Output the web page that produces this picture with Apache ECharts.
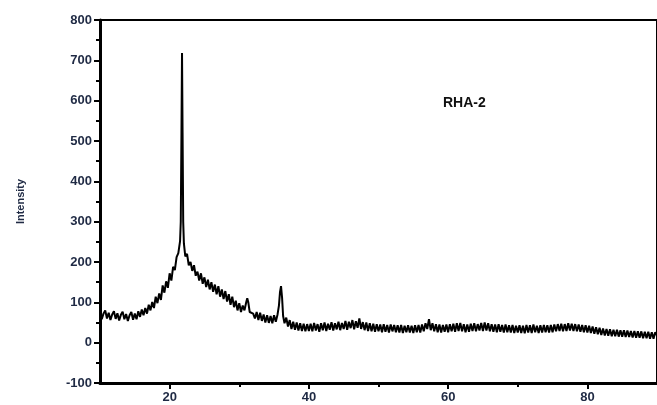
<!DOCTYPE html>
<html lang="en" style="height: 100%">
<head>
<meta charset="utf-8">
<title>RHA-2 XRD</title>
</head>
<body style="height: 100%; margin: 0; background: #fff">
<div id="container" style="height: 100%"></div>
<script type="text/javascript" src="https://cdn.jsdelivr.net/npm/echarts/dist/echarts.min.js"></script>
<script type="text/javascript">
var dom = document.getElementById('container');
var myChart = echarts.init(dom);

// 2-theta positions (deg) and intensities
var twoTheta = [
  10, 10.25, 10.5, 10.75, 11, 11.25, 11.5, 11.75, 12, 12.25, 12.5, 12.75, 13, 13.25, 13.5, 13.75, 14, 14.25, 14.5, 14.75,
  15, 15.25, 15.5, 15.75, 16, 16.25, 16.5, 16.75, 17, 17.25, 17.5, 17.75, 18, 18.25, 18.5, 18.75, 19, 19.25, 19.5, 19.75,
  20, 20.25, 20.5, 20.75, 21, 21.25, 21.5, 21.6, 21.7, 21.78, 21.86, 21.95, 22.05, 22.25, 22.5, 22.75, 23, 23.25, 23.5, 23.75, 24, 24.25, 24.5, 24.75,
  25, 25.25, 25.5, 25.75, 26, 26.25, 26.5, 26.75, 27, 27.25, 27.5, 27.75, 28, 28.25, 28.5, 28.75, 29, 29.25, 29.5, 29.75,
  30, 30.25, 30.5, 30.75, 31, 31.15, 31.3, 31.5, 31.75, 32, 32.25, 32.5, 32.75, 33, 33.25, 33.5, 33.75, 34, 34.25, 34.5, 34.75,
  35, 35.25, 35.5, 35.7, 35.85, 36, 36.15, 36.3, 36.5, 36.75, 37, 37.25, 37.5, 37.75, 38, 38.25, 38.5, 38.75, 39, 39.25, 39.5, 39.75,
  40, 40.25, 40.5, 40.75, 41, 41.25, 41.5, 41.75, 42, 42.25, 42.5, 42.75, 43, 43.25, 43.5, 43.75, 44, 44.25, 44.5, 44.75,
  45, 45.25, 45.5, 45.75, 46, 46.25, 46.5, 46.75, 47, 47.25, 47.5, 47.75, 48, 48.25, 48.5, 48.75, 49, 49.25, 49.5, 49.75,
  50, 50.25, 50.5, 50.75, 51, 51.25, 51.5, 51.75, 52, 52.25, 52.5, 52.75, 53, 53.25, 53.5, 53.75, 54, 54.25, 54.5, 54.75,
  55, 55.25, 55.5, 55.75, 56, 56.25, 56.5, 56.75, 57, 57.25, 57.5, 57.75, 58, 58.25, 58.5, 58.75, 59, 59.25, 59.5, 59.75,
  60, 60.25, 60.5, 60.75, 61, 61.25, 61.5, 61.75, 62, 62.25, 62.5, 62.75, 63, 63.25, 63.5, 63.75, 64, 64.25, 64.5, 64.75,
  65, 65.25, 65.5, 65.75, 66, 66.25, 66.5, 66.75, 67, 67.25, 67.5, 67.75, 68, 68.25, 68.5, 68.75, 69, 69.25, 69.5, 69.75,
  70, 70.25, 70.5, 70.75, 71, 71.25, 71.5, 71.75, 72, 72.25, 72.5, 72.75, 73, 73.25, 73.5, 73.75, 74, 74.25, 74.5, 74.75,
  75, 75.25, 75.5, 75.75, 76, 76.25, 76.5, 76.75, 77, 77.25, 77.5, 77.75, 78, 78.25, 78.5, 78.75, 79, 79.25, 79.5, 79.75,
  80, 80.25, 80.5, 80.75, 81, 81.25, 81.5, 81.75, 82, 82.25, 82.5, 82.75, 83, 83.25, 83.5, 83.75, 84, 84.25, 84.5, 84.75,
  85, 85.25, 85.5, 85.75, 86, 86.25, 86.5, 86.75, 87, 87.25, 87.5, 87.75, 88, 88.25, 88.5, 88.75, 89, 89.25, 89.5, 89.75,
  90
];
var intensity = [
  76, 58, 72, 80, 60, 74, 56, 70, 78, 59, 73, 55, 69, 77, 58, 71, 54, 68, 76, 57,
  72, 58, 78, 64, 82, 68, 86, 72, 94, 80, 101, 86, 114, 98, 122, 106, 142, 124, 152, 136,
  172, 154, 188, 180, 212, 222, 252, 300, 520, 718, 520, 300, 246, 214, 220, 192, 200, 178, 192, 166, 176, 154, 172, 146,
  162, 138, 156, 132, 150, 126, 144, 120, 140, 114, 132, 108, 128, 102, 120, 94, 114, 88, 104, 80,
  98, 76, 92, 80, 100, 110, 100, 76, 80, 72, 60, 76, 56, 74, 54, 70, 50, 68, 49, 66, 48,
  68, 52, 70, 92, 125, 140, 112, 66, 48, 62, 40, 56, 34, 52, 32, 50, 30, 48, 29, 47, 28, 46,
  29, 47, 28, 49, 30, 46, 27, 48, 31, 50, 29, 47, 32, 51, 30, 48, 33, 52, 31, 49,
  34, 54, 32, 52, 36, 56, 33, 53, 37, 60, 34, 51, 31, 50, 29, 48, 28, 47, 27, 46,
  28, 45, 26, 46, 27, 44, 25, 45, 28, 44, 26, 43, 25, 44, 24, 42, 26, 43, 25, 42,
  24, 43, 26, 44, 25, 45, 28, 48, 34, 58, 31, 48, 28, 46, 26, 45, 25, 44, 27, 45,
  26, 46, 28, 47, 27, 48, 29, 49, 28, 46, 26, 45, 27, 47, 29, 48, 28, 46, 30, 49,
  29, 50, 30, 48, 28, 46, 27, 45, 26, 46, 27, 44, 25, 45, 26, 43, 25, 44, 24, 42,
  25, 43, 24, 42, 23, 44, 25, 43, 24, 45, 26, 42, 24, 43, 25, 44, 26, 43, 25, 44,
  26, 45, 28, 46, 29, 47, 28, 46, 29, 48, 30, 47, 29, 46, 28, 45, 27, 44, 26, 43,
  25, 42, 24, 40, 22, 38, 21, 37, 19, 35, 18, 34, 17, 33, 16, 32, 16, 32, 15, 31,
  15, 31, 14, 30, 14, 29, 13, 29, 12, 28, 12, 28, 11, 27, 11, 27, 10, 26, 10, 26,
  18
];
var xMajorTicks = [20, 40, 60, 80];
var xMinorTicks = [30, 50, 70];

var points = twoTheta.map(function (x, i) { return [x, intensity[i]]; });

var labelStyle = {
  color: '#1f2a44',
  fontFamily: 'Liberation Sans, Arial, sans-serif',
  fontWeight: 'bold',
  fontSize: 13
};

var option = {
  animation: false,
  grid: {
    left: 100, right: -3, top: 20, bottom: 22,
    show: true, borderColor: '#000', borderWidth: 2, backgroundColor: 'transparent'
  },
  xAxis: [
    {
      type: 'value',
      min: 10,
      max: 90,
      axisLine: { onZero: false, lineStyle: { color: '#000', width: 3 } },
      axisTick: {
        show: true, inside: false, length: 6, customValues: xMajorTicks,
        lineStyle: { color: '#000', width: 2 }
      },
      splitLine: { show: false },
      axisLabel: Object.assign({ margin: 8, customValues: xMajorTicks }, labelStyle)
    },
    {
      type: 'value',
      position: 'bottom',
      min: 10,
      max: 90,
      axisLine: { show: false, onZero: false },
      axisTick: {
        show: true, inside: false, length: 4, customValues: xMinorTicks,
        lineStyle: { color: '#000', width: 2 }
      },
      axisLabel: { show: false },
      splitLine: { show: false }
    }
  ],
  yAxis: {
    type: 'value',
    min: -100,
    max: 800,
    interval: 100,
    name: 'Intensity',
    nameLocation: 'middle',
    nameRotate: 90,
    nameGap: 74,
    nameTextStyle: {
      color: '#1f2a44',
      fontFamily: 'Liberation Sans, Arial, sans-serif',
      fontWeight: 'bold',
      fontSize: 11
    },
    axisLine: { show: true, onZero: false, lineStyle: { color: '#000', width: 3 } },
    axisTick: {
      show: true, inside: false, length: 6,
      lineStyle: { color: '#000', width: 2 }
    },
    minorTick: {
      show: true, splitNumber: 2, length: 4,
      lineStyle: { color: '#000', width: 2 }
    },
    splitLine: { show: false },
    axisLabel: Object.assign({ margin: 8 }, labelStyle)
  },
  graphic: [
    {
      type: 'text',
      left: 443,
      top: 96,
      style: {
        text: 'RHA-2',
        fill: '#111',
        font: 'bold 14px "Liberation Sans", Arial, sans-serif'
      }
    }
  ],
  series: [
    {
      type: 'line',
      xAxisIndex: 0,
      data: points,
      showSymbol: false,
      lineStyle: { color: '#000', width: 2 },
      silent: true
    }
  ]
};

myChart.setOption(option);
window.addEventListener('resize', myChart.resize);
</script>
</body>
</html>
